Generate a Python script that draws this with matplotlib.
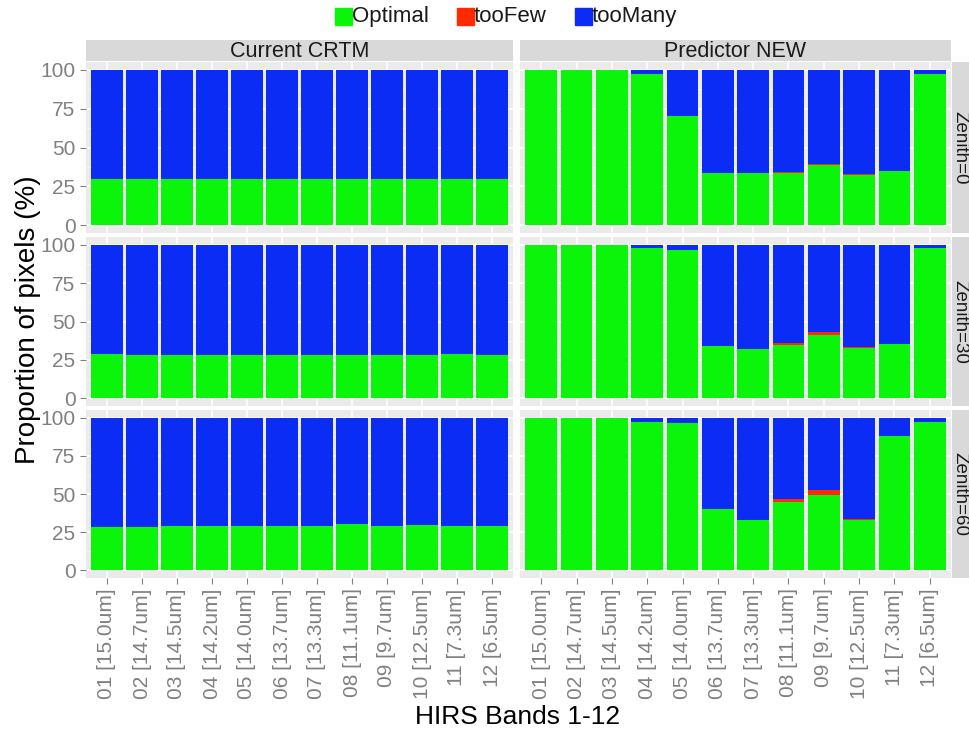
import numpy as np
import matplotlib
matplotlib.use("Agg")
import matplotlib.pyplot as plt
from matplotlib.patches import Rectangle

plt.rcParams['font.family'] = ['Liberation Sans', 'DejaVu Sans']

bands = ["01 [15.0um]", "02 [14.7um]", "03 [14.5um]", "04 [14.2um]",
         "05 [14.0um]", "06 [13.7um]", "07 [13.3um]", "08 [11.1um]",
         "09 [9.7um]", "10 [12.5um]", "11 [7.3um]", "12 [6.5um]"]
models = ["Current CRTM", "Predictor NEW"]
zeniths = ["Zenith=0", "Zenith=30", "Zenith=60"]

# percent Optimal / tooFew per band (tooMany is the rest)
crtm_opt_0 = [29.5, 29.5, 29.5, 29.5, 29.5, 29.5, 29.5, 29.5, 29.5, 29.5, 29.5, 29.5]
crtm_few_0 = [0, 0, 0, 0, 0, 0, 0, 0, 0, 0, 0, 0]
crtm_opt_30 = [28.7, 28.5, 28.5, 28.5, 28.5, 28.5, 28.5, 28.5, 28.5, 28.5, 28.7, 28.5]
crtm_few_30 = [0, 0, 0, 0, 0, 0, 0, 0, 0, 0, 0.3, 0]
crtm_opt_60 = [28.3, 28.7, 29.0, 29.0, 29.0, 29.0, 29.0, 30.2, 29.0, 29.5, 29.0, 29.0]
crtm_few_60 = [0, 0, 0, 0, 0, 0, 0, 0, 0, 0, 0, 0]

new_opt_0 = [100, 100, 100, 97.4, 70.2, 33.7, 33.3, 33.6, 38.8, 32.6, 34.6, 97.6]
new_few_0 = [0, 0, 0, 0, 0, 0, 0, 0.6, 0.9, 0.3, 0, 0]
new_opt_30 = [100, 100, 100, 97.8, 96.3, 34.1, 32.4, 34.8, 41.3, 32.6, 35.6, 97.6]
new_few_30 = [0, 0, 0, 0, 0, 0, 0, 1.2, 1.8, 0.5, 0, 0]
new_opt_60 = [100, 100, 100, 97.2, 96.8, 40.0, 33.0, 44.6, 49.5, 32.8, 87.8, 97.2]
new_few_60 = [0, 0, 0, 0, 0, 0, 0, 2.2, 3.0, 1.0, 0.4, 0]

panels = {
    ("Current CRTM", "Zenith=0"): (crtm_opt_0, crtm_few_0),
    ("Current CRTM", "Zenith=30"): (crtm_opt_30, crtm_few_30),
    ("Current CRTM", "Zenith=60"): (crtm_opt_60, crtm_few_60),
    ("Predictor NEW", "Zenith=0"): (new_opt_0, new_few_0),
    ("Predictor NEW", "Zenith=30"): (new_opt_30, new_few_30),
    ("Predictor NEW", "Zenith=60"): (new_opt_60, new_few_60),
}

c_opt = "#0af50a"
c_few = "#ff2a00"
c_many = "#0a2cf5"
panel_bg = "#ebebeb"
strip_bg = "#d9d9d9"
tick_col = "#808080"

W, H = 970, 735
fig = plt.figure(figsize=(W / 100, H / 100), dpi=100)

def fax(x0, y0, x1, y1):
    # pixel box -> figure fraction
    return fig.add_axes([x0 / W, 1 - y1 / H, (x1 - x0) / W, (y1 - y0) / H])

col_x = [(86, 513), (520, 951)]
row_y = [(62, 233), (237, 406), (410, 578)]

x = np.arange(1, len(bands) + 1)
for ci, m in enumerate(models):
    for ri, z in enumerate(zeniths):
        x0, x1 = col_x[ci]
        y0, y1 = row_y[ri]
        ax = fax(x0, y0, x1, y1)
        ax.set_facecolor(panel_bg)
        opt, few = panels[(m, z)]
        opt = np.array(opt, float)
        few = np.array(few, float)
        many = 100 - opt - few
        ax.bar(x, opt, width=0.9, color=c_opt, zorder=3)
        ax.bar(x, few, width=0.9, bottom=opt, color=c_few, zorder=3)
        ax.bar(x, many, width=0.9, bottom=opt + few, color=c_many, zorder=3)
        ax.set_xlim(0.4, len(bands) + 0.6)
        ax.set_ylim(-5, 105)
        ax.set_yticks([0, 25, 50, 75, 100])
        ax.set_yticks([12.5, 37.5, 62.5, 87.5], minor=True)
        ax.set_xticks(x)
        ax.grid(which="major", color="white", lw=1.1, zorder=1)
        ax.grid(which="minor", axis="y", color="#f5f5f5", lw=0.6, zorder=1)
        for s in ax.spines.values():
            s.set_visible(False)
        ax.tick_params(axis="both", which="major", color=tick_col, length=4,
                       labelcolor=tick_col, labelsize=15)
        ax.tick_params(which="minor", length=0)
        if ci == 0:
            ax.set_yticklabels(["0", "25", "50", "75", "100"])
        else:
            ax.tick_params(axis="y", length=0, labelleft=False)
        if ri == 2:
            ax.set_xticklabels(bands, rotation=90)
        else:
            ax.tick_params(axis="x", length=0, labelbottom=False)

        if ri == 0:
            sax = fax(x0, 40, x1, 61)
            sax.set_facecolor(strip_bg)
            sax.set_xticks([]); sax.set_yticks([])
            for s in sax.spines.values():
                s.set_visible(False)
            sax.text(0.5, 0.45, m, ha="center", va="center", fontsize=15.5,
                     color="#1a1a1a", transform=sax.transAxes)
        if ci == 1:
            sax = fax(952, y0, 970, y1)
            sax.set_facecolor(strip_bg)
            sax.set_xticks([]); sax.set_yticks([])
            for s in sax.spines.values():
                s.set_visible(False)
            sax.text(0.42, 0.5, z, ha="center", va="center", fontsize=13.5,
                     rotation=-90, color="#1a1a1a", transform=sax.transAxes)

fig.text(28 / W, 1 - 320 / H, "Proportion of pixels (%)", rotation=90,
         ha="center", va="center", fontsize=20)
fig.text(518 / W, 1 - 717 / H, "HIRS Bands 1-12", ha="center", va="center",
         fontsize=19)

# legend
leg_items = [("Optimal", c_opt, 335), ("tooFew", c_few, 457), ("tooMany", c_many, 575)]
for lab, col, px in leg_items:
    fig.patches.append(Rectangle((px / W, 1 - 25 / H), 17 / W, 17 / H,
                                 color=col, transform=fig.transFigure))
    fig.text((px + 17) / W, 1 - 16.5 / H, lab, ha="left", va="center",
             fontsize=16, color="#1a1a1a")

fig.savefig("out.png", dpi=100, facecolor="white")
